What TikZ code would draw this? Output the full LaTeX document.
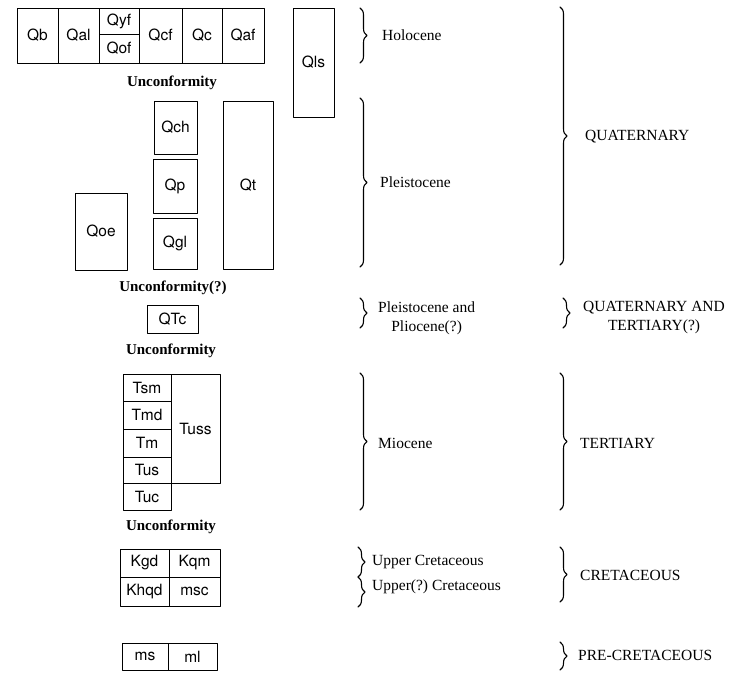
\documentclass[tikz,border=0pt]{standalone}
\usepackage{fontspec}
\setmainfont{Liberation Serif}
\newfontfamily\unitfont{TeX Gyre Heros}
\usetikzlibrary{decorations.pathreplacing}
\begin{document}
\begin{tikzpicture}[x=1pt, y=-1pt, line cap=round, line join=round,
    unit/.style={draw, line width=0.8pt, inner sep=0pt, outer sep=0pt,
      font=\unitfont\fontsize{15.5}{17}\selectfont},
    uncf/.style={font=\bfseries\fontsize{15}{17}\selectfont},
    epoch/.style={anchor=west, inner sep=0pt, align=center,
      font=\fontsize{15.5}{19}\selectfont},
    span/.style={line width=1.1pt, decorate,
      decoration={brace, amplitude=7pt}}]
  \useasboundingbox (0,0) rectangle (735,672);
  % Holocene units
  \node[unit, minimum width=41, minimum height=55] (qb) at (37.5,35.5) {Qb};
  \node[unit, minimum width=41, minimum height=55] (qal) at (78.5,35.5) {Qal};
  \node[unit, minimum width=40, minimum height=26] (qyf) at (119,21) {Qyf};
  \node[unit, minimum width=40, minimum height=29] (qof) at (119,48.5) {Qof};
  \node[unit, minimum width=43, minimum height=55] (qcf) at (160.5,35.5) {Qcf};
  \node[unit, minimum width=40, minimum height=55] (qc) at (202,35.5) {Qc};
  \node[unit, minimum width=42, minimum height=55] (qaf) at (243,35.5) {Qaf};
  \node[unit, minimum width=41, minimum height=109] (qls) at (313.5,62.5) {Qls};
  \node[uncf] (u1) at (172,83) {Unconformity};
  % Pleistocene units
  \node[unit, minimum width=43, minimum height=53] (qch) at (175.5,127.5) {Qch};
  \node[unit, minimum width=44, minimum height=54] (qp) at (175,186) {Qp};
  \node[unit, minimum width=44, minimum height=51] (qgl) at (175,243.5) {Qgl};
  \node[unit, minimum width=50, minimum height=168] (qt) at (248,185) {Qt};
  \node[unit, minimum width=52, minimum height=77] (qoe) at (101,231.5) {Qoe};
  \node[uncf] (u2) at (173,288) {Unconformity(?)};
  \node[unit, minimum width=51, minimum height=28] (qtc) at (172.5,319) {QTc};
  \node[uncf] (u3) at (171,351) {Unconformity};
  % Miocene units
  \node[unit, minimum width=48, minimum height=27] (tsm) at (147,387.5) {Tsm};
  \node[unit, minimum width=48, minimum height=28] (tmd) at (147,415) {Tmd};
  \node[unit, minimum width=48, minimum height=28] (tm) at (147,443) {Tm};
  \node[unit, minimum width=48, minimum height=26] (tus) at (147,470) {Tus};
  \node[unit, minimum width=48, minimum height=27] (tuc) at (147,496.5) {Tuc};
  \node[unit, minimum width=49, minimum height=109] (tuss) at (195.5,428.5) {Tuss};
  \node[uncf] (u4) at (171,527) {Unconformity};
  % Cretaceous and older units
  \node[unit, minimum width=49, minimum height=28] (kgd) at (144.5,563) {Kgd};
  \node[unit, minimum width=51, minimum height=28] (kqm) at (194.5,563) {Kqm};
  \node[unit, minimum width=49, minimum height=29] (khqd) at (144.5,591.5) {Khqd};
  \node[unit, minimum width=51, minimum height=29] (msc) at (194.5,591.5) {msc};
  \node[unit, minimum width=46, minimum height=27] (ms) at (145,656.5) {ms};
  \node[unit, minimum width=49, minimum height=27] (ml) at (192.5,656.5) {ml};
  % epoch braces
  \coordinate (holo-t) at (360,8);   \coordinate (holo-b) at (360,63);
  \coordinate (plei-t) at (360,98);  \coordinate (plei-b) at (360,267);
  \coordinate (plio-t) at (360,298); \coordinate (plio-b) at (360,328);
  \coordinate (mio-t) at (360,373);  \coordinate (mio-b) at (360,510);
  \coordinate (ucr-t) at (358,547);  \coordinate (ucr-m) at (358,577);
  \coordinate (ucr-b) at (358,607);
  \draw[span] (holo-t) -- (holo-b);
  \draw[span] (plei-t) -- (plei-b);
  \draw[span] (plio-t) -- (plio-b);
  \draw[span] (mio-t) -- (mio-b);
  \draw[span] (ucr-t) -- (ucr-m);
  \draw[span] (ucr-m) -- (ucr-b);
  \node[epoch] (holo) at (382,35) {Holocene};
  \node[epoch] (plei) at (380,182) {Pleistocene};
  \node[epoch] (plio) at (378,318) {Pleistocene and\\Pliocene(?)};
  \node[epoch] (mio) at (378,443) {Miocene};
  \node[epoch] (ucr) at (372,562) {Upper Cretaceous};
  \node[epoch] (uqcr) at (372,587) {Upper(?)\ Cretaceous};
  % period braces
  \coordinate (quat-t) at (560,7);   \coordinate (quat-b) at (560,265);
  \coordinate (qter-t) at (563,298); \coordinate (qter-b) at (563,328);
  \coordinate (tert-t) at (560,373); \coordinate (tert-b) at (560,510);
  \coordinate (cret-t) at (560,547); \coordinate (cret-b) at (560,602);
  \coordinate (pre-t) at (560,642);  \coordinate (pre-b) at (560,670);
  \draw[span] (quat-t) -- (quat-b);
  \draw[span] (qter-t) -- (qter-b);
  \draw[span] (tert-t) -- (tert-b);
  \draw[span] (cret-t) -- (cret-b);
  \draw[span] (pre-t) -- (pre-b);
  \node[epoch] (quat) at (585,137) {QUATERNARY};
  \node[epoch] (qter) at (583,318) {QUATERNARY AND\\TERTIARY(?)};
  \node[epoch] (tert) at (580,443) {TERTIARY};
  \node[epoch] (cret) at (580,575) {CRETACEOUS};
  \node[epoch] (pre) at (578,655) {PRE-CRETACEOUS};
\end{tikzpicture}
\end{document}
